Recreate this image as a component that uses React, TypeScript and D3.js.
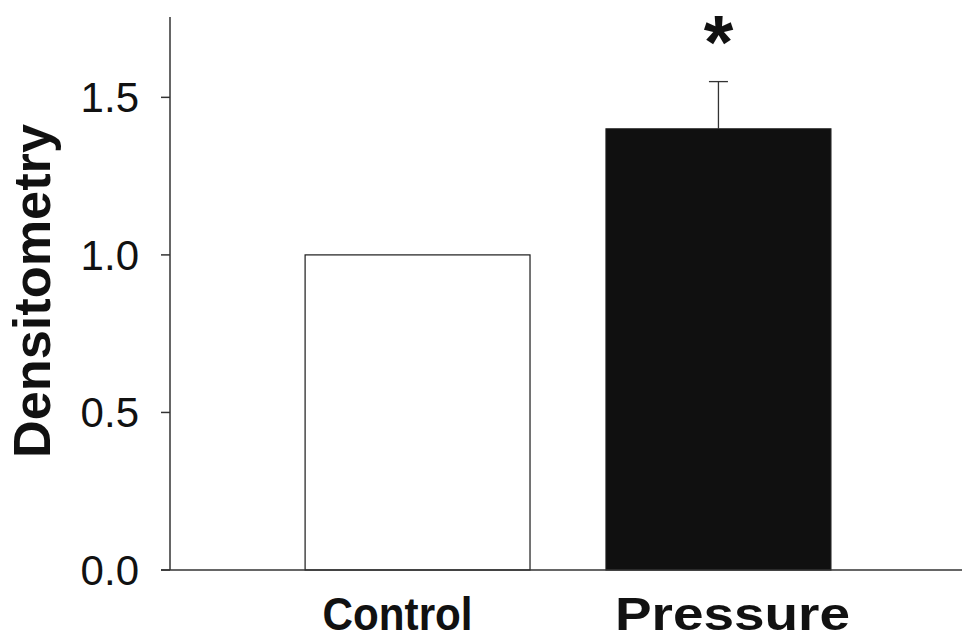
import React from "react";
import * as d3 from "d3";

// Densitometry by condition (mean ± SEM)
const categories = ["Control", "Pressure"];
const means = [1.0, 1.4];
const errors = [0, 0.15];
const significant = [false, true];
const yTicks = [0, 0.5, 1.0, 1.5];
const yTitle = "Densitometry";

const W = 962;
const H = 640;
const axisX = 170;
const axisBottom = 570;
const axisTop = 17;

const FONT = "'Liberation Sans', Arial, Helvetica, sans-serif";

export default function App() {
  const y = d3.scaleLinear().domain([0, 1.755]).range([axisBottom, axisTop]);
  const x = d3
    .scaleBand<string>()
    .domain(categories)
    .range([axisX, 966])
    .paddingInner(0.2525)
    .paddingOuter(0.449);

  const bw = x.bandwidth();
  const fills = ["#ffffff", "#101010"];
  const labelShift = [-20, 14];
  const labelWidth = [150, 235];
  const fmt = d3.format(".1f");

  return (
    <svg
      width={W}
      height={H}
      viewBox={`0 0 ${W} ${H}`}
      style={{ position: "absolute", left: 0, top: 0, background: "#fff" }}
    >
      {/* bars */}
      {categories.map((c, i) => (
        <rect
          key={c}
          x={x(c)!}
          y={y(means[i])}
          width={bw}
          height={y(0) - y(means[i])}
          fill={fills[i]}
          stroke="#1a1a1a"
          strokeWidth={1.2}
        />
      ))}

      {/* error bars (upper only) */}
      {categories.map((c, i) => {
        if (!errors[i]) return null;
        const cx = x(c)! + bw / 2;
        const top = y(means[i] + errors[i]);
        return (
          <g key={`err-${c}`} stroke="#333" strokeWidth={1.3}>
            <line x1={cx} x2={cx} y1={y(means[i])} y2={top} />
            <line x1={cx - 9.5} x2={cx + 9.5} y1={top} y2={top} />
          </g>
        );
      })}

      {/* significance marker */}
      {categories.map((c, i) =>
        significant[i] ? (
          <text
            key={`sig-${c}`}
            x={x(c)! + bw / 2}
            y={68}
            textAnchor="middle"
            fontFamily={FONT}
            fontWeight="bold"
            fontSize={76}
            fill="#111"
          >
            *
          </text>
        ) : null
      )}

      {/* y axis */}
      <line x1={axisX} x2={axisX} y1={axisTop} y2={axisBottom} stroke="#333" strokeWidth={1.5} />
      {yTicks.map((t) => (
        <g key={t}>
          <line x1={axisX - 9} x2={axisX} y1={y(t)} y2={y(t)} stroke="#333" strokeWidth={1.5} />
          <text
            x={139}
            y={y(t) + 15}
            textAnchor="end"
            fontFamily={FONT}
            fontSize={42}
            fill="#111"
          >
            {fmt(t)}
          </text>
        </g>
      ))}

      {/* x axis */}
      <line x1={axisX - 9} x2={W} y1={axisBottom} y2={axisBottom} stroke="#333" strokeWidth={1.5} />
      {categories.map((c, i) => (
        <text
          key={`lbl-${c}`}
          x={x(c)! + bw / 2 + labelShift[i]}
          y={630}
          textAnchor="middle"
          fontFamily={FONT}
          fontWeight="bold"
          fontSize={46}
          fill="#111"
          textLength={labelWidth[i]}
          lengthAdjust="spacingAndGlyphs"
        >
          {c}
        </text>
      ))}

      {/* y title */}
      <text
        transform={`translate(50, 291) rotate(-90)`}
        textAnchor="middle"
        fontFamily={FONT}
        fontWeight="bold"
        fontSize={52}
        fill="#111"
        textLength={334}
        lengthAdjust="spacingAndGlyphs"
      >
        {yTitle}
      </text>
    </svg>
  );
}
